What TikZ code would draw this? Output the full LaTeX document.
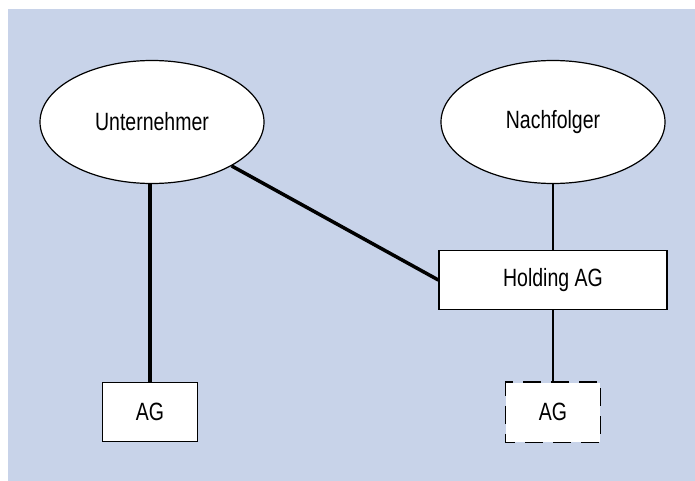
\documentclass[tikz,border=0pt]{standalone}
\usepackage{fontspec}
\setmainfont{Liberation Sans}[FakeStretch=0.78]
\usetikzlibrary{shapes.geometric}
\definecolor{bgblue}{RGB}{200,211,233}

\begin{document}
\begin{tikzpicture}[x=1pt, y=-1pt,
    person/.style={ellipse, draw, line width=1.2pt, fill=white,
        minimum width=224pt, minimum height=123pt, font=\fontsize{25}{30}\selectfont},
    firm/.style={rectangle, draw, line width=1.3pt, fill=white,
        minimum height=59pt, font=\fontsize{25}{30}\selectfont},
    strong/.style={line width=3.5pt},
    weak/.style={line width=2pt}]

    \useasboundingbox (0, 0) rectangle (695, 481);

    \fill[bgblue] (8, 9) rectangle (695, 481);

    \node[person] (unternehmer) at (152, 122) {Unternehmer};

    \node[person] (nachfolger) at (553, 122) {Nachfolger};

    \node[firm, minimum width=228pt] (holding) at (553, 280) {Holding AG};

    \node[firm, minimum width=95pt] (agleft) at (150, 412) {AG};

    \node[firm, minimum width=94pt, draw=none] (agright) at (553, 412) {AG};

    \draw[line width=1.3pt, dash pattern=on 18pt off 10pt, dash phase=4pt]
        (agright.north west) rectangle (agright.south east);

    \draw[strong] (unternehmer.south -| agleft.north) -- (agleft.north);

    \draw[strong] (unternehmer) -- (holding.west);

    \draw[weak] (nachfolger) -- (holding);

    \draw[weak] (holding) -- (agright);
\end{tikzpicture}
\end{document}
